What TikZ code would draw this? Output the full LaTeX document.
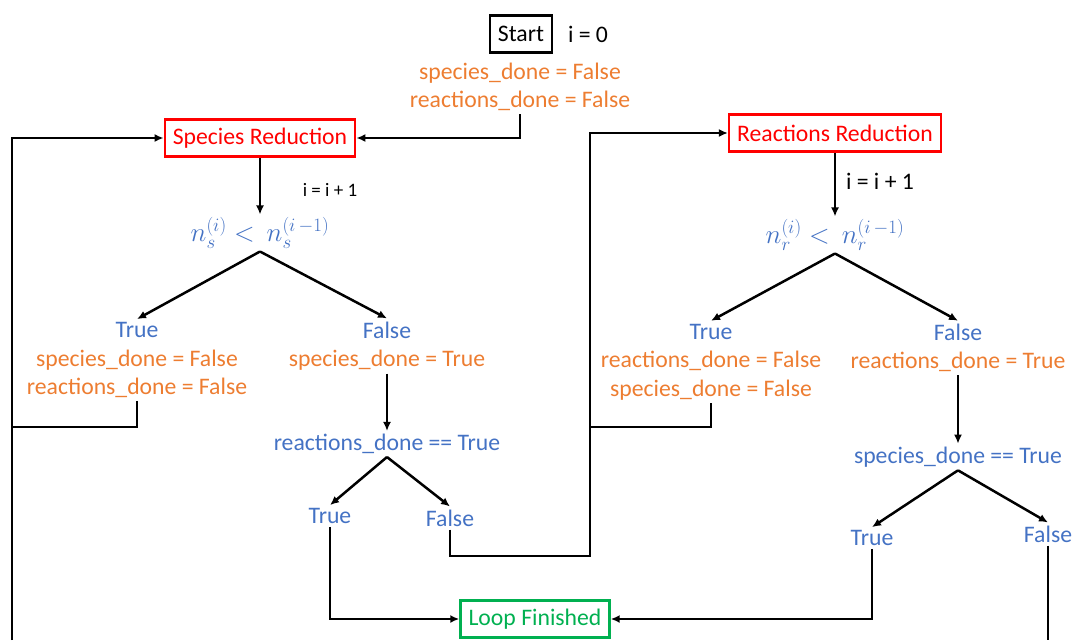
\RequirePackage{fix-cm}
\documentclass[tikz,border=0pt]{standalone}
\usepackage{fontspec}
\setmainfont{Carlito}
\usepackage{tikz}
\usetikzlibrary{arrows.meta, positioning}
\definecolor{CondBlue}{HTML}{4472C4}
\definecolor{FlagOrange}{HTML}{ED7D31}
\definecolor{StepRed}{HTML}{FF0000}
\definecolor{EndGreen}{HTML}{00B050}

\begin{document}
\begin{tikzpicture}[
    x=1pt, y=-1pt,
    every node/.style={font=\fontsize{23.7}{28.5}\selectfont},
    box/.style={draw, line width=2.5pt, inner xsep=8pt, minimum height=37pt},
    txt/.style={align=center, inner sep=3pt},
    cond/.style={text=CondBlue, inner sep=3pt, font=\fontsize{27}{30}\selectfont},
    small/.style={font=\fontsize{19}{22}\selectfont},
    arr/.style={-{Latex[length=9pt,width=8pt]}, line width=2.5pt},
    wire/.style={line width=2.5pt}
]
    \useasboundingbox (0,0) rectangle (1073,640);

    % Start and initial flags
    \node[box, draw=black] at (521,34) (start) {Start};
    \node at (588,34) (izero) {i = 0};
    \node[txt, text=FlagOrange] at (520,87) (init) {species\_done = False\\reactions\_done = False};

    % Species branch
    \node[box, draw=StepRed, text=StepRed] at (260,138) (specred) {Species Reduction};
    \node[small] at (330,190) (incs) {i = i + 1};
    \node[cond] at (260,233) (conds) {$n_s^{(i)} < \, n_s^{(i\,-1)}$};
    \node[txt] at (137,360) (trues) {\textcolor{CondBlue}{True}\\
        \textcolor{FlagOrange}{species\_done = False}\\
        \textcolor{FlagOrange}{reactions\_done = False}};
    \node[txt] at (387,346) (falses) {\textcolor{CondBlue}{False}\\
        \textcolor{FlagOrange}{species\_done = True}};
    \node[txt, text=CondBlue] at (387,444) (chkr) {reactions\_done == True};
    \node[txt, text=CondBlue] at (330,516) (ttr) {True};
    \node[txt, text=CondBlue] at (450,518) (ffr) {False};

    % Reactions branch
    \node[box, draw=StepRed, text=StepRed] at (835,133) (reacred) {Reactions Reduction};
    \node at (880,181) (incr) {i = i + 1};
    \node[cond] at (835,235) (condr) {$n_r^{(i)} < \, n_r^{(i\,-1)}$};
    \node[txt] at (711,362) (truer) {\textcolor{CondBlue}{True}\\
        \textcolor{FlagOrange}{reactions\_done = False}\\
        \textcolor{FlagOrange}{species\_done = False}};
    \node[txt] at (958,348) (falser) {\textcolor{CondBlue}{False}\\
        \textcolor{FlagOrange}{reactions\_done = True}};
    \node[txt, text=CondBlue] at (958,457) (chks) {species\_done == True};
    \node[txt, text=CondBlue] at (872,538) (tts) {True};
    \node[txt, text=CondBlue] at (1048,534) (ffs) {False};

    % End
    \node[box, draw=EndGreen, text=EndGreen] at (535,619) (loopend) {Loop Finished};

    % Corner points
    \coordinate (lmerge) at (12,427);
    \coordinate (lbot) at (12,640);
    \coordinate (rjoin) at (590,556);
    \coordinate (rmerge) at (590,427);
    \coordinate (rbot) at (1048,640);

    % Connectors
    \draw[arr] (init.south) |- (specred.east);
    \draw[arr] (specred.south) -- (conds.north);
    \draw[arr] (conds.south) -- (trues.north);
    \draw[arr] (conds.south) -- (falses.north);
    \draw[wire] (trues.south) |- (lmerge);
    \draw[arr] (lbot) |- (specred.west);
    \draw[arr] (falses.south) -- (chkr.north);
    \draw[arr] (chkr.south) -- (ttr.north);
    \draw[arr] (chkr.south) -- (ffr.north);
    \draw[arr] (ttr.south) |- (loopend.west);
    \draw[arr] (ffr.south) |- (rjoin) |- (reacred.west);

    \draw[arr] (reacred.south) -- (condr.north);
    \draw[arr] (condr.south) -- (truer.north);
    \draw[arr] (condr.south) -- (falser.north);
    \draw[wire] (truer.south) |- (rmerge);
    \draw[arr] (falser.south) -- (chks.north);
    \draw[arr] (chks.south) -- (tts.north);
    \draw[arr] (chks.south) -- (ffs.north);
    \draw[arr] (tts.south) |- (loopend.east);
    \draw[wire] (ffs.south) -- (rbot);
\end{tikzpicture}
\end{document}
